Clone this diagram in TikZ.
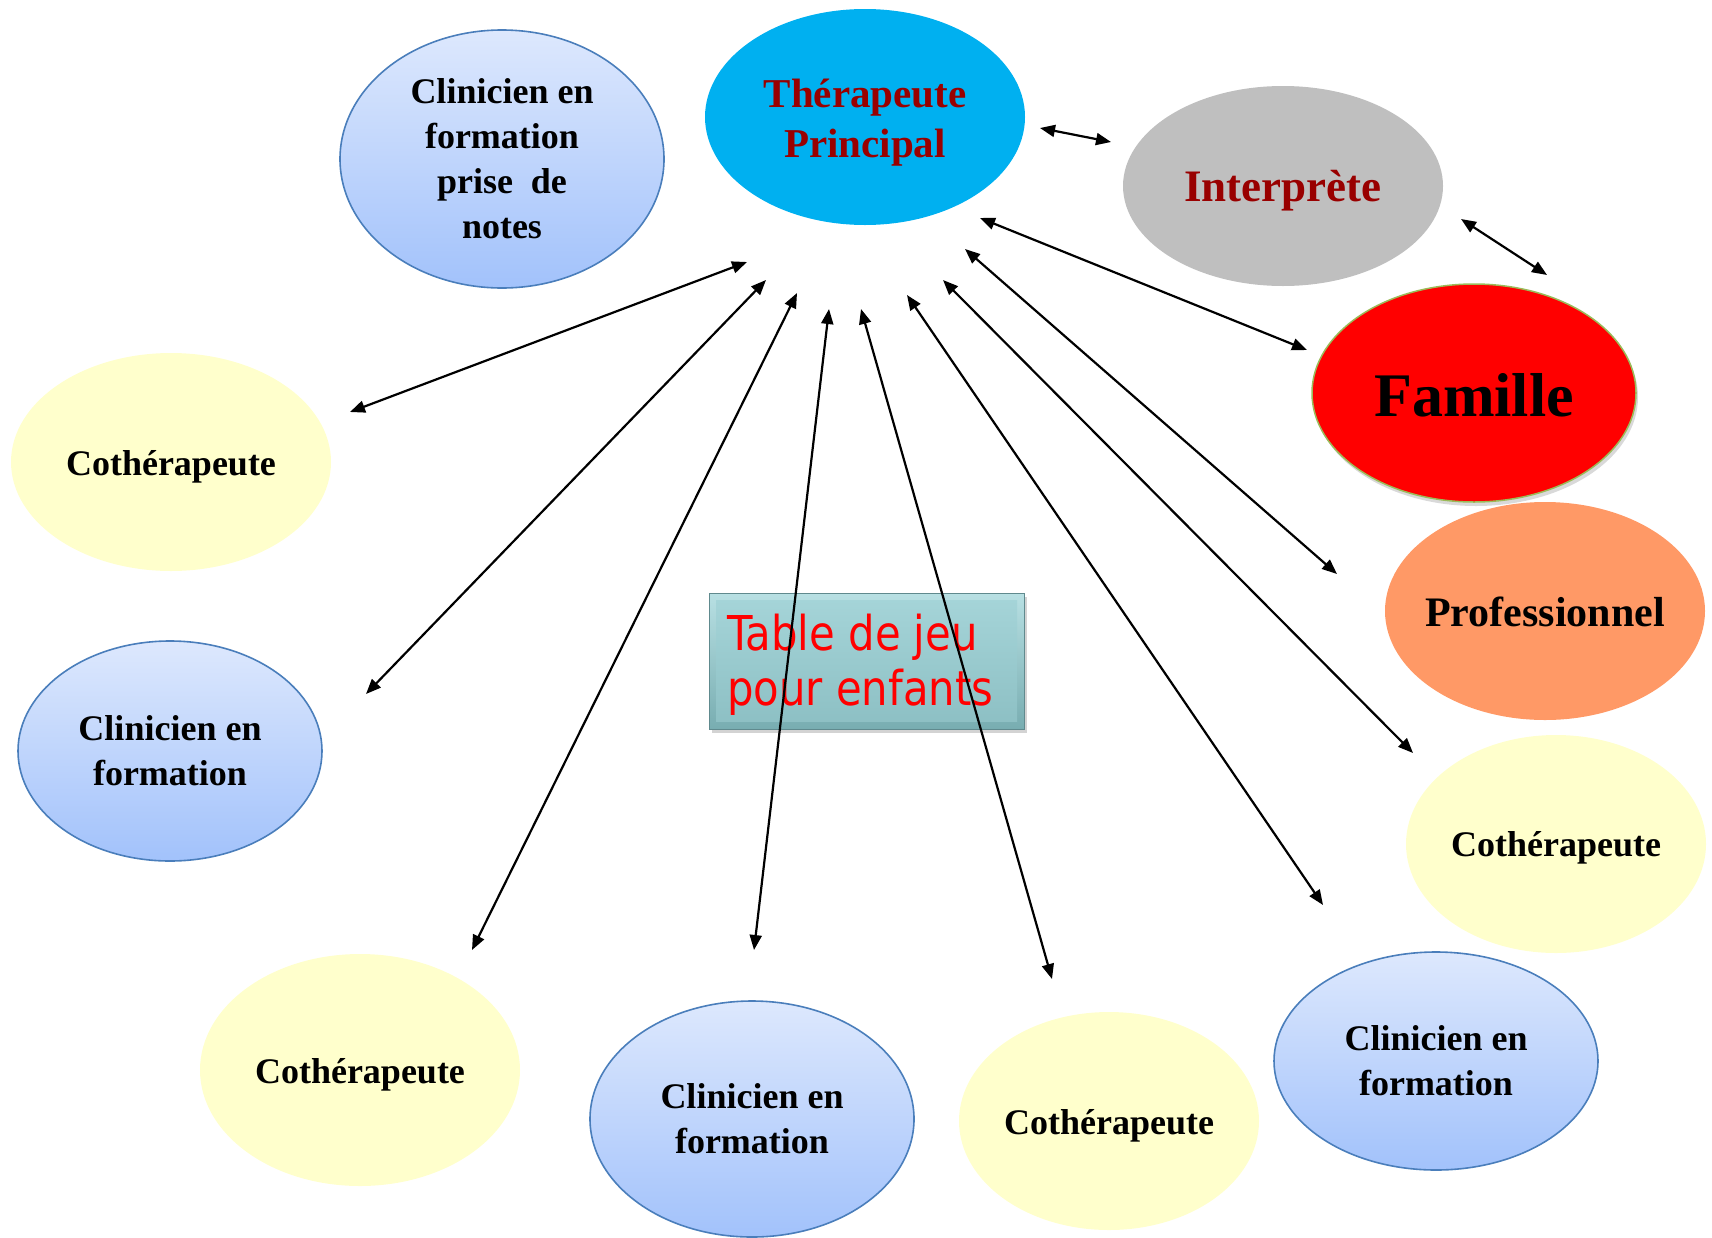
\documentclass[tikz,border=0pt]{standalone}
\usepackage{fontspec}
\setmainfont{Liberation Serif}
\newfontfamily\tablefont[FakeStretch=0.87]{DejaVu Sans}
\usetikzlibrary{arrows.meta,shadows,shapes.geometric}
\definecolor{tpblue}{HTML}{00B0F0}
\definecolor{txtred}{HTML}{990000}
\definecolor{interpgray}{HTML}{BFBFBF}
\definecolor{famred}{HTML}{FF0000}
\definecolor{famedge}{HTML}{9BBB59}
\definecolor{proorange}{HTML}{FF9966}
\definecolor{coyellow}{HTML}{FFFFCC}
\definecolor{bltop}{HTML}{DDE8FD}
\definecolor{blbot}{HTML}{A2C2FB}
\definecolor{bledge}{HTML}{4A7EBB}
\definecolor{tabtop}{HTML}{B8E0E3}
\definecolor{tabbot}{HTML}{78ADB1}
\definecolor{tabintop}{HTML}{A6D5D9}
\definecolor{tabinbot}{HTML}{8CBFC3}
\newcommand{\lowertext}[2]{\raisebox{-#1}[\height][\depth]{#2}}
\tikzset{
  ell/.style={ellipse, inner sep=0pt, align=center, font=\bfseries\fontsize{36}{45}\selectfont},
  blueell/.style={ell, top color=bltop, bottom color=blbot, draw=bledge, line width=1.6pt},
  yellowell/.style={ell, fill=coyellow},
  link/.style={line width=2.2pt, {Triangle[length=15pt,width=12pt]}-{Triangle[length=15pt,width=12pt]}}
}
\begin{document}
\begin{tikzpicture}[x=1pt,y=-1pt]
\useasboundingbox (0,0) rectangle (1712,1237);

% central table
\node (table) [rectangle, minimum width=315pt, minimum height=136pt, inner sep=0pt,
  top color=tabtop, bottom color=tabbot, draw=tabbot!80!black, line width=0.8pt,
  drop shadow={opacity=0.35, shadow xshift=3pt, shadow yshift=-4pt},
  path picture={\shade[top color=tabintop, bottom color=tabinbot]
    ([shift={(7pt,8pt)}]path picture bounding box.south west) rectangle
    ([shift={(-7pt,-7pt)}]path picture bounding box.north east);}]
  at (866.5,661) {};
\node (tabletext) [align=left, inner sep=0pt, text=red,
  font=\tablefont\fontsize{48}{55}\selectfont, anchor=north west]
  at (727,614) {Table de jeu\\pour enfants};

% ellipses
\node (tp) [ell, fill=tpblue, minimum width=320pt, minimum height=216pt, text=txtred,
  font=\bfseries\fontsize{41}{50}\selectfont] at (865,117)
  {\lowertext{5.5pt}{\begin{tabular}{@{}c@{}}Thérapeute\\Principal\end{tabular}}};
\node (interp) [ell, fill=interpgray, minimum width=320pt, minimum height=200pt, text=txtred,
  font=\bfseries\fontsize{45}{54}\selectfont] at (1283,186) {\lowertext{4.5pt}{Interprète}};
\node (notes) [blueell, minimum width=324pt, minimum height=258pt] at (502,159)
  {Clinicien en\\formation\\prise\ \ de\\notes};
\node (coL) [yellowell, minimum width=320pt, minimum height=218pt] at (171,462) {\lowertext{4.5pt}{Cothérapeute}};
\node (fam) [ell, fill=famred, draw=famedge, line width=1.5pt, minimum width=324pt, minimum height=218pt,
  drop shadow={opacity=0.3, shadow xshift=2pt, shadow yshift=-4pt},
  font=\bfseries\fontsize{62}{72}\selectfont] at (1474,393) {\lowertext{2pt}{Famille}};
\node (pro) [ell, fill=proorange, minimum width=320pt, minimum height=218pt,
  font=\bfseries\fontsize{42}{50}\selectfont] at (1545,611) {\lowertext{1pt}{\makebox[200pt]{Professionnel}}};
\node (clL) [blueell, minimum width=304pt, minimum height=220pt] at (170,751) {Clinicien en\\formation};
\node (coR) [yellowell, minimum width=300pt, minimum height=218pt] at (1556,844) {\lowertext{4pt}{Cothérapeute}};
\node (coBL) [yellowell, minimum width=320pt, minimum height=232pt] at (360,1070) {\lowertext{4.5pt}{Cothérapeute}};
\node (clB) [blueell, minimum width=324pt, minimum height=236pt] at (752,1119) {Clinicien en\\formation};
\node (coB) [yellowell, minimum width=300pt, minimum height=218pt] at (1109,1121) {\lowertext{4.5pt}{Cothérapeute}};
\node (clR) [blueell, minimum width=324pt, minimum height=218pt] at (1436,1061) {Clinicien en\\formation};

% connector end points
\coordinate (a1) at (1040,128);  \coordinate (a2) at (1111,142);
\coordinate (b1) at (1461,219);  \coordinate (b2) at (1547,275);
\coordinate (c1) at (980,218);   \coordinate (c2) at (1307,350);
\coordinate (d1) at (965,249);   \coordinate (d2) at (1337,574);
\coordinate (e1) at (943,280);   \coordinate (e2) at (1413,753);
\coordinate (f1) at (907,295);   \coordinate (f2) at (1323,905);
\coordinate (g1) at (861,309);   \coordinate (g2) at (1052,979);
\coordinate (h1) at (829,309);   \coordinate (h2) at (754,950);
\coordinate (i1) at (797,293);   \coordinate (i2) at (472,950);
\coordinate (j1) at (766,280);   \coordinate (j2) at (366,694);
\coordinate (k1) at (747,262);   \coordinate (k2) at (350,412);

\draw[link] (a1) -- (a2);
\draw[link] (b1) -- (b2);
\draw[link] (c1) -- (c2);
\draw[link] (d1) -- (d2);
\draw[link] (e1) -- (e2);
\draw[link] (f1) -- (f2);
\draw[link] (g1) -- (g2);
\draw[link] (h1) -- (h2);
\draw[link] (i1) -- (i2);
\draw[link] (j1) -- (j2);
\draw[link] (k1) -- (k2);
\end{tikzpicture}
\end{document}
